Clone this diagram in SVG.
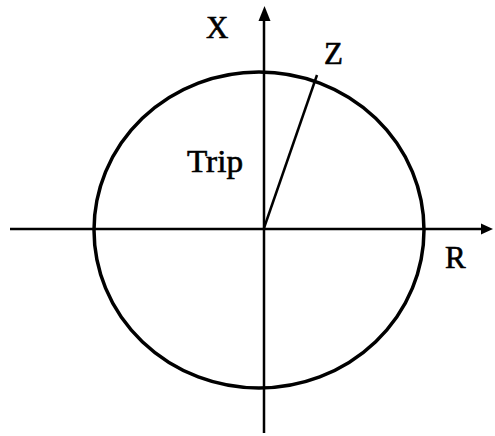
<svg xmlns="http://www.w3.org/2000/svg" width="495" height="436" viewBox="0 0 495 436">
<style>
.ax{stroke:#000;stroke-width:2.5;fill:none}
.c{stroke:#000;stroke-width:3.5;fill:none}
.t{font-family:"Liberation Serif","Times New Roman",serif;font-size:31px;fill:#000;stroke:#000;stroke-width:0.6}
</style>
<rect width="495" height="436" fill="#fff"/>
<g id="circle"><ellipse class="c" cx="259" cy="230" rx="165" ry="158"/></g>
<g id="connectors">
<line class="ax" x1="10" y1="229" x2="484" y2="229"/>
<polygon points="493,229 481,223.5 481,234.5" fill="#000"/>
<line class="ax" x1="264" y1="433" x2="264" y2="18"/>
<polygon points="264.5,6 258.5,21 270.5,21" fill="#000"/>
<line class="ax" x1="264" y1="228" x2="317" y2="75" stroke-width="3"/>
</g>
<g id="labels">
<text class="t" x="206" y="38">X</text>
<text class="t" x="324" y="64">Z</text>
<text class="t" x="445" y="268">R</text>
<text class="t" x="187" y="172" textLength="56" lengthAdjust="spacingAndGlyphs">Trip</text>
</g>
</svg>
